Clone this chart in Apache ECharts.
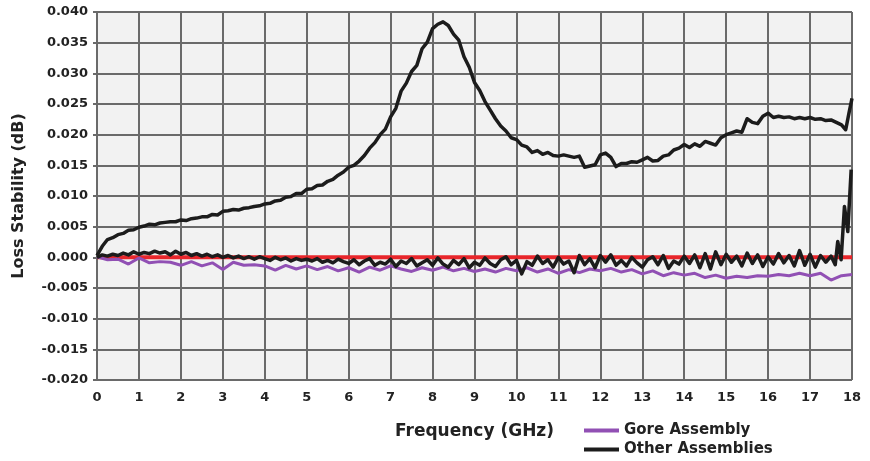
<!DOCTYPE html>
<html>
<head>
<meta charset="utf-8">
<script src="https://cdn.jsdelivr.net/npm/echarts@6/dist/echarts.min.js"></script>
<style>
  html, body { margin: 0; padding: 0; background: #fff; }
  #chart { width: 870px; height: 461px; }
</style>
</head>
<body>
<div id="chart"></div>
<script>
// y axis ticks
const yMin = -0.02, yMax = 0.04, yStep = 0.005

// upper black curve (Other Assemblies), every 0.125 GHz from 0 to 17.75
const upperStep = 0.125
const upperVals = [
  0.0003, 0.0018, 0.0029, 0.0032, 0.0037, 0.0039, 0.0044, 0.0045,
  0.0049, 0.0051, 0.0054, 0.0053, 0.0056, 0.0057, 0.0058, 0.0058,
  0.0061, 0.0060, 0.0063, 0.0064, 0.0066, 0.0066, 0.0070, 0.0069,
  0.0075, 0.0076, 0.0078, 0.0077, 0.0080, 0.0081, 0.0083, 0.0084,
  0.0087, 0.0088, 0.0092, 0.0093, 0.0098, 0.0099, 0.0104, 0.0104,
  0.0111, 0.0112, 0.0117, 0.0118, 0.0124, 0.0127, 0.0134, 0.0139,
  0.0147, 0.0150, 0.0157, 0.0166, 0.0178, 0.0187, 0.0200, 0.0209,
  0.0229, 0.0243, 0.0271, 0.0284, 0.0303, 0.0313, 0.0340, 0.0351,
  0.0373, 0.0380, 0.0384, 0.0378, 0.0364, 0.0354, 0.0327, 0.0310,
  0.0285, 0.0272, 0.0254, 0.0240, 0.0226, 0.0214, 0.0206, 0.0195,
  0.0192, 0.0183, 0.0180, 0.0171, 0.0174, 0.0168, 0.0171, 0.0166,
  0.0165, 0.0167, 0.0165, 0.0163, 0.0165, 0.0147, 0.0149, 0.0151,
  0.0167, 0.0170, 0.0163, 0.0148, 0.0153, 0.0153, 0.0156, 0.0155,
  0.0159, 0.0163, 0.0157, 0.0158, 0.0165, 0.0167, 0.0175, 0.0178,
  0.0184, 0.0179, 0.0185, 0.0181, 0.0189, 0.0186, 0.0183, 0.0195,
  0.0200, 0.0203, 0.0206, 0.0204, 0.0226, 0.0220, 0.0218, 0.0230,
  0.0235, 0.0228, 0.0230, 0.0228, 0.0229, 0.0226, 0.0228, 0.0226,
  0.0228, 0.0225, 0.0226, 0.0223, 0.0224, 0.0220, 0.0216
]
const upperTailFreq = [17.85, 17.93, 18.0]
const upperTailVals = [0.0208, 0.0236, 0.0259]

// lower black noisy curve (Other Assemblies), every 0.125 GHz from 0 to 17.5
const noiseStep = 0.125
const noiseVals = [
  0.0000, 0.0004, 0.0002, 0.0005, 0.0003, 0.0007, 0.0004, 0.0009,
  0.0005, 0.0008, 0.0006, 0.0010, 0.0007, 0.0009, 0.0004, 0.0010,
  0.0005, 0.0008, 0.0003, 0.0006, 0.0002, 0.0005, 0.0001, 0.0004,
  0.0000, 0.0003, -0.0001, 0.0002, -0.0002, 0.0001, -0.0003, 0.0001,
  -0.0002, -0.0005, 0.0000, -0.0004, -0.0001, -0.0006, -0.0002, -0.0005,
  -0.0003, -0.0006, -0.0002, -0.0008, -0.0005, -0.0009, -0.0003, -0.0007,
  -0.0010, -0.0004, -0.0012, -0.0006, -0.0002, -0.0013, -0.0008, -0.0011,
  -0.0003, -0.0015, -0.0006, -0.0010, -0.0002, -0.0014, -0.0009, -0.0004,
  -0.0013, -0.0001, -0.0011, -0.0016, -0.0005, -0.0012, -0.0002, -0.0017,
  -0.0008, -0.0013, -0.0001, -0.0010, -0.0015, -0.0004, 0.0001, -0.0012,
  -0.0005, -0.0027, -0.0007, -0.0013, 0.0002, -0.0010, -0.0004, -0.0016,
  0.0000, -0.0011, -0.0006, -0.0025, 0.0003, -0.0012, -0.0002, -0.0017,
  0.0003, -0.0008, 0.0004, -0.0013, -0.0005, -0.0014, 0.0000, -0.0009,
  -0.0016, -0.0004, 0.0001, -0.0012, 0.0003, -0.0018, -0.0006, -0.0011,
  0.0002, -0.0010, 0.0004, -0.0017, 0.0006, -0.0019, 0.0009, -0.0012,
  0.0005, -0.0008, 0.0002, -0.0014, 0.0007, -0.0010, 0.0004, -0.0015,
  0.0001, -0.0011, 0.0006, -0.0009, 0.0003, -0.0014, 0.0011, -0.0013,
  0.0005, -0.0016, 0.0003, -0.0008, 0.0002
]
const noiseTailFreq = [17.6, 17.66, 17.74, 17.82, 17.9, 17.98]
const noiseTailVals = [-0.0012, 0.0026, -0.0004, 0.0083, 0.0042, 0.0143]

// purple curve (Gore Assembly), every 0.25 GHz from 0 to 18
const goreStep = 0.25
const goreVals = [
  0.0001, -0.0004, -0.0003, -0.0011, -0.0001, -0.0009, -0.0007, -0.0008,
  -0.0013, -0.0007, -0.0014, -0.0009, -0.0020, -0.0008, -0.0013, -0.0012,
  -0.0014, -0.0021, -0.0013, -0.0019, -0.0014, -0.0020, -0.0015, -0.0022,
  -0.0017, -0.0024, -0.0016, -0.0021, -0.0014, -0.0019, -0.0023, -0.0017,
  -0.0021, -0.0016, -0.0022, -0.0018, -0.0023, -0.0019, -0.0024, -0.0018,
  -0.0022, -0.0017, -0.0024, -0.0019, -0.0026, -0.0020, -0.0025, -0.0019,
  -0.0022, -0.0018, -0.0024, -0.0020, -0.0027, -0.0022, -0.0030, -0.0025,
  -0.0029, -0.0026, -0.0033, -0.0029, -0.0034, -0.0031, -0.0033, -0.0030,
  -0.0031, -0.0028, -0.0030, -0.0026, -0.0030, -0.0026, -0.0037, -0.0030,
  -0.0028
]

// zero reference line
const zeroLine = [[0, 0], [18, 0]]

let toPairs = (vals, step) => vals.map((v, i) => [i * step, v])

let upperData = toPairs(upperVals, upperStep)
  .concat(upperTailFreq.map((f, i) => [f, upperTailVals[i]]))
let noiseData = toPairs(noiseVals, noiseStep)
  .concat(noiseTailFreq.map((f, i) => [f, noiseTailVals[i]]))
let goreData = toPairs(goreVals, goreStep)

const font = '"DejaVu Sans", Verdana, sans-serif'
const txt = '#222'
const gridCol = '#6a6a6a'

let legendItem = (name, top) => ({
  data: [name],
  orient: 'vertical',
  left: 584,
  top: top,
  icon: 'rect',
  itemWidth: 35,
  itemHeight: 4,
  padding: 0,
  textStyle: { fontFamily: font, fontSize: 15, fontWeight: 'bold', color: txt }
})

let chart = echarts.init(document.getElementById('chart'), null, { renderer: 'canvas' })
chart.setOption({
  animation: false,
  backgroundColor: '#fff',
  grid: {
    left: 97, right: 18, top: 12, bottom: 81,
    outerBoundsMode: 'none',
    containLabel: false,
    show: true,
    backgroundColor: '#f2f2f2',
    borderWidth: 0
  },
  legend: [legendItem('Gore Assembly', 423), legendItem('Other Assemblies', 442)],
  xAxis: {
    type: 'value',
    min: 0,
    max: 18,
    interval: 1,
    name: 'Frequency (GHz)',
    nameLocation: 'middle',
    nameGap: 43,
    nameTextStyle: { fontFamily: font, fontSize: 17, fontWeight: 'bold', color: txt },
    axisLine: { show: true, lineStyle: { color: gridCol, width: 2 } },
    axisTick: { show: true, length: 5, lineStyle: { color: gridCol, width: 2 } },
    axisLabel: { fontFamily: font, fontSize: 13, fontWeight: 'bold', color: txt, margin: 11 },
    splitLine: { show: true, lineStyle: { color: gridCol, width: 2 } }
  },
  yAxis: {
    type: 'value',
    min: yMin,
    max: yMax,
    interval: yStep,
    name: 'Loss Stability (dB)',
    nameLocation: 'middle',
    nameGap: 70,
    nameTextStyle: { fontFamily: font, fontSize: 16, fontWeight: 'bold', color: txt },
    axisLine: { show: true, onZero: false, lineStyle: { color: gridCol, width: 2 } },
    axisTick: { show: true, length: 4, lineStyle: { color: gridCol, width: 2 } },
    axisLabel: {
      fontFamily: font, fontSize: 13, fontWeight: 'bold', color: txt, margin: 9,
      formatter: v => (Math.abs(v) < 1e-9 ? 0 : v).toFixed(3)
    },
    splitLine: { show: true, lineStyle: { color: gridCol, width: 2 } }
  },
  series: [
    {
      name: 'zero',
      type: 'line',
      data: zeroLine,
      symbol: 'none',
      silent: true,
      lineStyle: { color: '#e8262b', width: 4 },
      z: 1
    },
    {
      name: 'Gore Assembly',
      type: 'line',
      data: goreData,
      symbol: 'none',
      color: '#9150b4',
      lineStyle: { color: '#9150b4', width: 3 },
      z: 2
    },
    {
      name: 'Other Assemblies',
      type: 'line',
      data: noiseData,
      symbol: 'none',
      color: '#1c1c1c',
      lineStyle: { color: '#1c1c1c', width: 3.5, join: 'round' },
      z: 3
    },
    {
      name: 'Other Assemblies',
      type: 'line',
      data: upperData,
      symbol: 'none',
      color: '#1c1c1c',
      lineStyle: { color: '#1c1c1c', width: 3.5, join: 'round' },
      z: 3
    }
  ]
})
</script>
</body>
</html>
